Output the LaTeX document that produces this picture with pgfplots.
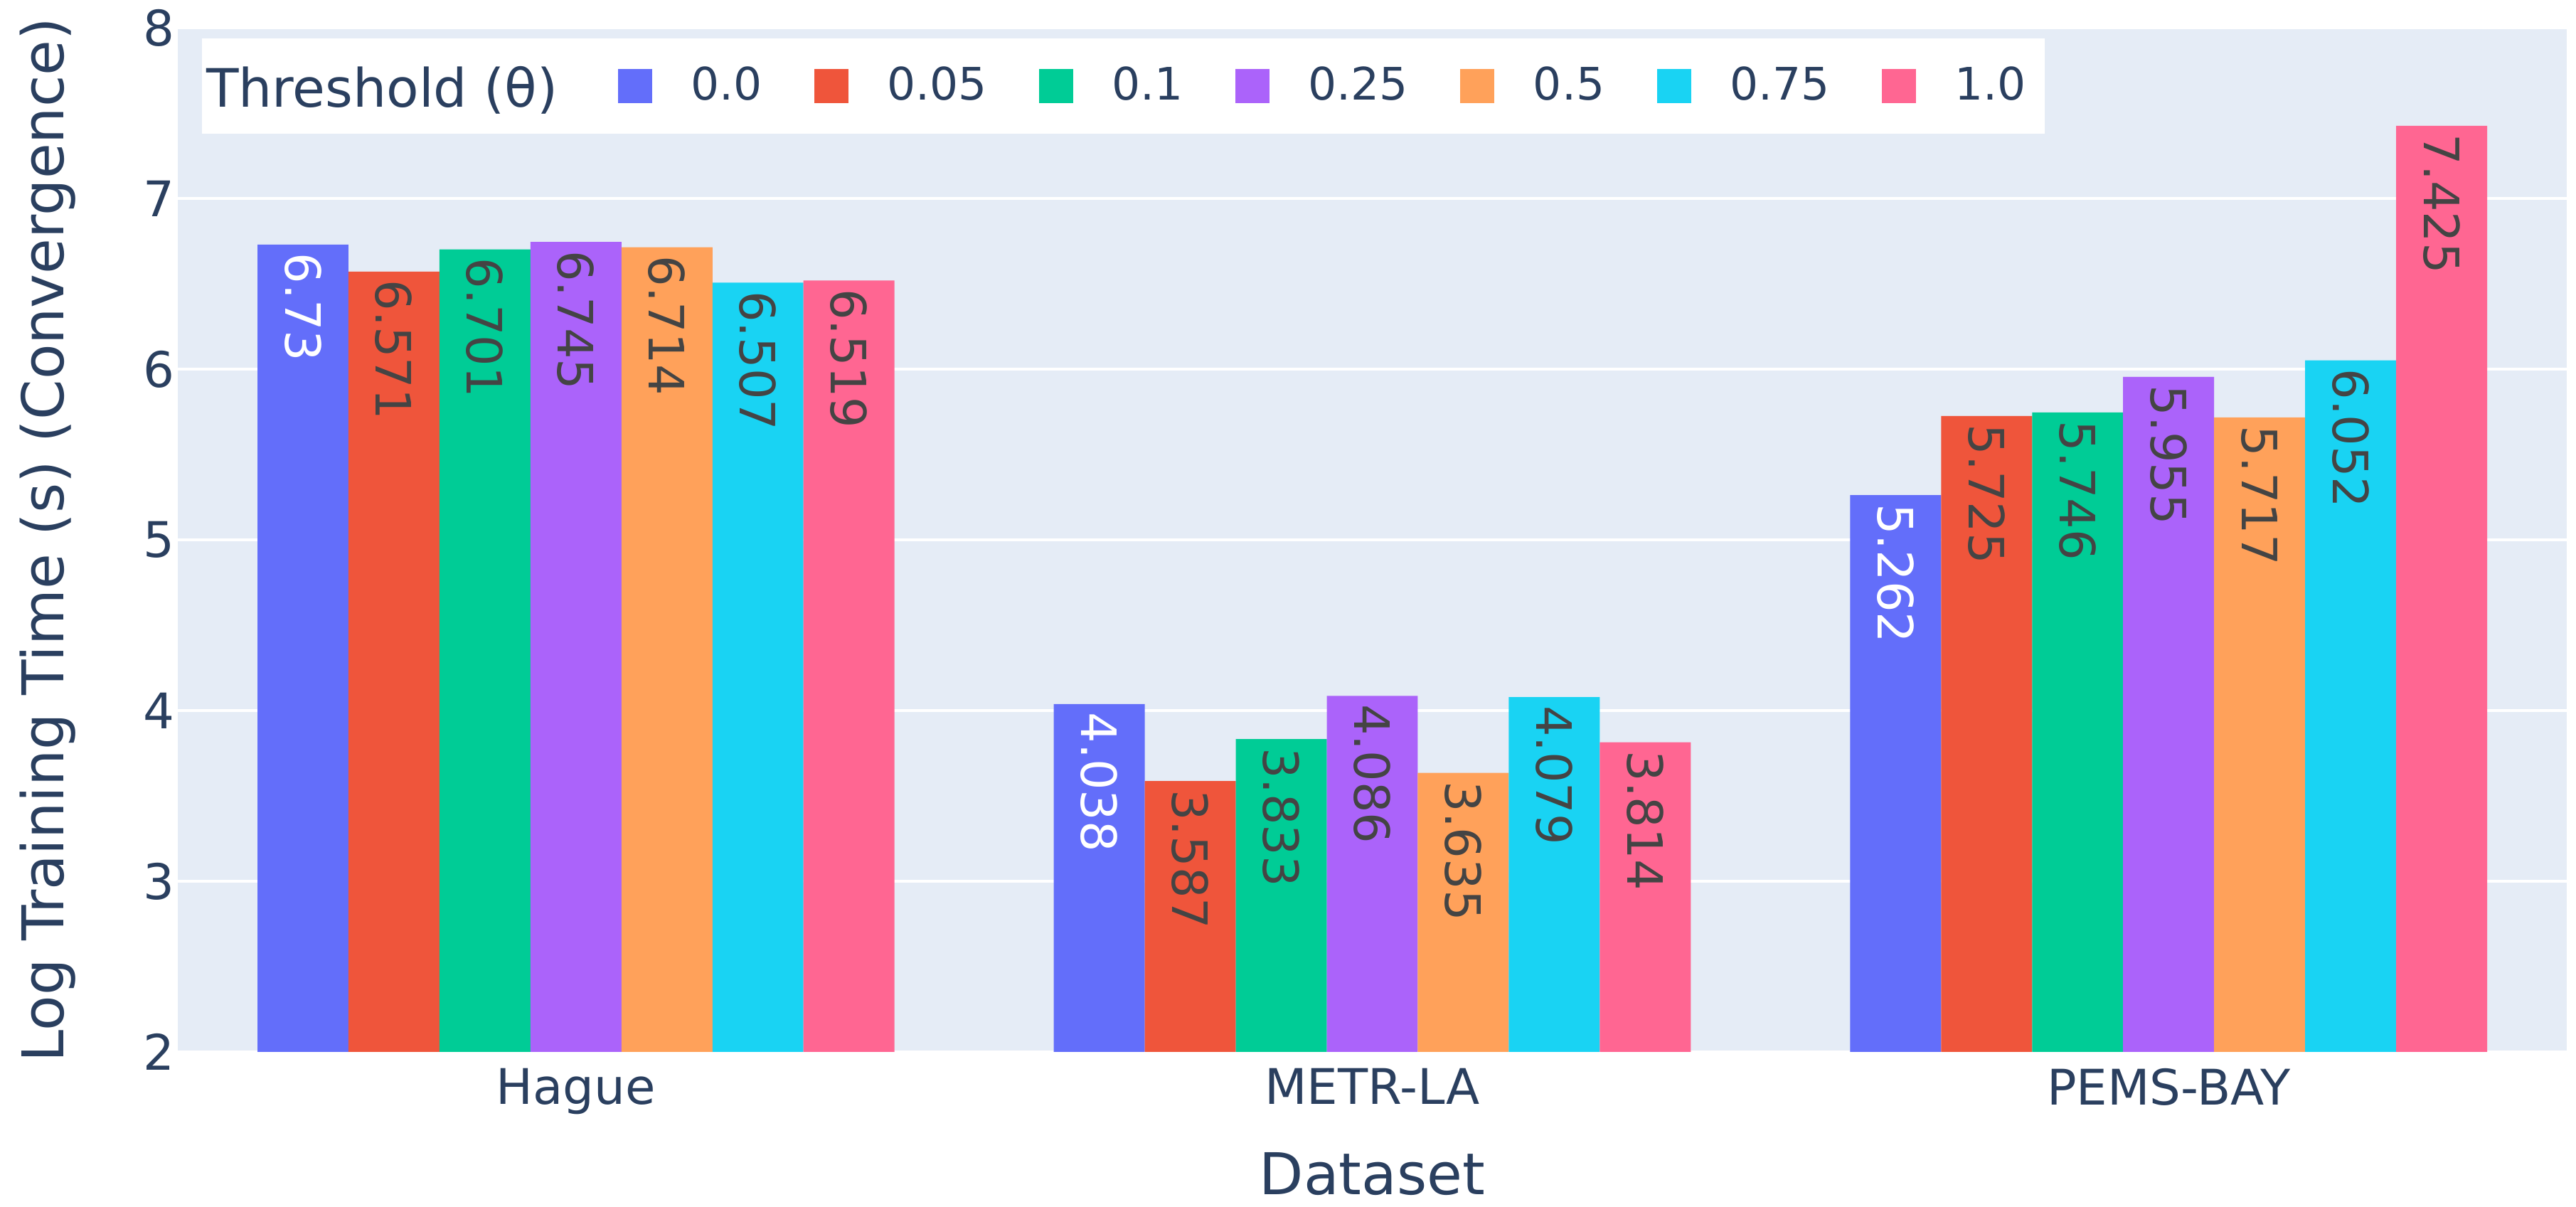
\documentclass[border=0pt]{standalone}
\usepackage{fontspec}
\setmainfont{DejaVu Sans}
\usepackage{pgfplots}
\pgfplotsset{compat=1.18}
\definecolor{c0}{HTML}{636EFA}
\definecolor{c1}{HTML}{EF553B}
\definecolor{c2}{HTML}{00CC96}
\definecolor{c3}{HTML}{AB63FA}
\definecolor{c4}{HTML}{FFA15A}
\definecolor{c5}{HTML}{19D3F3}
\definecolor{c6}{HTML}{FF6692}
\definecolor{bgc}{HTML}{E5ECF6}
\definecolor{txt}{HTML}{2A3F5F}
\definecolor{lbl}{HTML}{444444}
\begin{document}
\begin{tikzpicture}
\path[use as bounding box] (-50pt,-43.6pt) rectangle (674.4pt,295.8pt);
\begin{axis}[
  scale only axis, width=671.8pt, height=288pt,
  at={(0,0)}, anchor=south west,
  xmin=-0.5, xmax=2.5, ymin=2, ymax=8,
  xtick={0,1,2}, xticklabels={Hague,METR-LA,PEMS-BAY},
  ytick={2,3,4,5,6,7,8},
  axis background/.style={fill=bgc},
  axis line style={draw=none},
  major tick length=0pt,
  ymajorgrids, grid style={white, line width=0.9pt},
  /pgf/number format/assume math mode=true,
  tick label style={font=\fontsize{13.8}{16}\selectfont, text=txt},
  xticklabel style={anchor=north, inner sep=0pt, yshift=-4.4pt},
  yticklabel style={anchor=east, inner sep=0pt, xshift=-0.8pt},
  xlabel={Dataset}, ylabel={Log Training Time (s) (Convergence)},
  label style={font=\fontsize{16.2}{19}\selectfont, text=txt},
  xlabel style={at={(axis description cs:0.5,-0.1389)}, anchor=base},
  ylabel style={at={(axis description cs:-0.0479,0.5)}, anchor=base},
  ybar, bar width=25.59pt,
  nodes near coords, point meta=explicit symbolic,
  every node near coord/.append style={font=\fontsize{13.7}{16}\selectfont, text=lbl, yshift=-2.2pt, rotate=-90, anchor=west, inner sep=0pt},
  legend columns=-1,
  legend image code/.code={\fill[#1,draw=none] (0pt,-4.8pt) rectangle (9.6pt,4.8pt);},
  legend style={at={(axis description cs:0.00982,0.99028)}, anchor=north west,
    draw=none, fill=white, inner xsep=0pt, inner ysep=6.95pt,
    font=\fontsize{12.6}{15}\selectfont,
    nodes={inner sep=0pt, text=txt},
    /tikz/every odd column/.append style={column sep=10.9pt},
    /tikz/every even column/.append style={column sep=14.7pt}},
]
\addlegendimage{empty legend}
\addlegendentry{\hspace*{-9.7pt}\raisebox{-1pt}[11.32pt][1.97pt]{\fontsize{14.9}{18}\selectfont Threshold (θ)}\hspace*{2.1pt}}
\addplot[fill=c0, draw=none, bar shift=-76.77pt, every node near coord/.append style={text=white}]
  coordinates {(0,6.73)[6.73] (1,4.038)[4.038] (2,5.262)[5.262]};
\addlegendentry{0.0}
\addplot[fill=c1, draw=none, bar shift=-51.18pt]
  coordinates {(0,6.571)[6.571] (1,3.587)[3.587] (2,5.725)[5.725]};
\addlegendentry{0.05}
\addplot[fill=c2, draw=none, bar shift=-25.59pt]
  coordinates {(0,6.701)[6.701] (1,3.833)[3.833] (2,5.746)[5.746]};
\addlegendentry{0.1}
\addplot[fill=c3, draw=none, bar shift=0pt]
  coordinates {(0,6.745)[6.745] (1,4.086)[4.086] (2,5.955)[5.955]};
\addlegendentry{0.25}
\addplot[fill=c4, draw=none, bar shift=25.59pt]
  coordinates {(0,6.714)[6.714] (1,3.635)[3.635] (2,5.717)[5.717]};
\addlegendentry{0.5}
\addplot[fill=c5, draw=none, bar shift=51.18pt]
  coordinates {(0,6.507)[6.507] (1,4.079)[4.079] (2,6.052)[6.052]};
\addlegendentry{0.75}
\addplot[fill=c6, draw=none, bar shift=76.77pt]
  coordinates {(0,6.519)[6.519] (1,3.814)[3.814] (2,7.425)[7.425]};
\addlegendentry{1.0\hspace*{5.2pt}}
\end{axis}
\end{tikzpicture}
\end{document}
